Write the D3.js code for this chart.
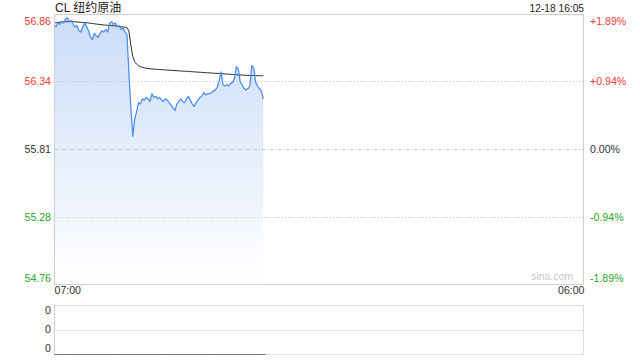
<!DOCTYPE html>
<html><head><meta charset="utf-8">
<script src="https://cdn.jsdelivr.net/npm/d3@7"></script>
<style>body{margin:0;background:#fff}svg{display:block}</style>
</head><body><svg id="c" width="640" height="360"></svg>
<script>
const title = "CL 纽约原油";
const stamp = "12-18 16:05";
const watermark = "sina.com";
const prevClose = 55.81;
const priceTicks = [56.86, 56.34, 55.81, 55.28, 54.76];
const pctTicks = ["+1.89%", "+0.94%", "0.00%", "-0.94%", "-1.89%"];
const xTickLabels = ["07:00", "06:00"];
const volTicks = ["0", "0", "0"];
const sessionStart = "07:00", sessionEnd = "06:00", stepMinutes = 5;

const prices = [
  56.78, 56.76, 56.79, 56.78, 56.80, 56.79, 56.82, 56.83, 56.80, 56.81,
  56.78, 56.76, 56.77, 56.73, 56.72, 56.76, 56.79, 56.76, 56.73, 56.68,
  56.66, 56.71, 56.69, 56.68, 56.71, 56.73, 56.72, 56.74, 56.72, 56.79,
  56.80, 56.78, 56.79, 56.76, 56.77, 56.74, 56.75, 56.72, 56.70, 56.40,
  56.14, 55.91, 56.04, 56.10, 56.17, 56.16, 56.20, 56.19, 56.21, 56.20,
  56.18, 56.24, 56.21, 56.22, 56.20, 56.21, 56.19, 56.18, 56.20, 56.19,
  56.17, 56.15, 56.13, 56.11, 56.16, 56.18, 56.20, 56.18, 56.17, 56.20,
  56.22, 56.19, 56.16, 56.14, 56.17, 56.19, 56.21, 56.22, 56.25, 56.23,
  56.24, 56.24, 56.25, 56.26, 56.27, 56.29, 56.34, 56.41, 56.31, 56.30,
  56.31, 56.30, 56.32, 56.33, 56.36, 56.45, 56.43, 56.33, 56.31, 56.28,
  56.27, 56.28, 56.30, 56.46, 56.44, 56.33, 56.30, 56.28, 56.26, 56.20
];
const avgPrices = [
  56.790, 56.792, 56.795, 56.797, 56.798, 56.799, 56.800, 56.801, 56.801, 56.801,
  56.800, 56.799, 56.798, 56.797, 56.795, 56.794, 56.793, 56.792, 56.790, 56.788,
  56.786, 56.784, 56.782, 56.780, 56.778, 56.776, 56.775, 56.773, 56.772, 56.771,
  56.770, 56.769, 56.767, 56.765, 56.763, 56.761, 56.759, 56.757, 56.754, 56.730,
  56.620, 56.530, 56.490, 56.470, 56.458, 56.450, 56.445, 56.441, 56.438, 56.436,
  56.434, 56.432, 56.431, 56.430, 56.429, 56.428, 56.427, 56.426, 56.425, 56.424,
  56.423, 56.422, 56.421, 56.420, 56.419, 56.418, 56.417, 56.416, 56.415, 56.414,
  56.413, 56.412, 56.411, 56.410, 56.409, 56.408, 56.407, 56.406, 56.405, 56.404,
  56.403, 56.402, 56.401, 56.400, 56.399, 56.398, 56.397, 56.396, 56.395, 56.394,
  56.393, 56.392, 56.391, 56.390, 56.389, 56.388, 56.387, 56.386, 56.385, 56.384,
  56.383, 56.383, 56.382, 56.382, 56.381, 56.381, 56.380, 56.380, 56.380, 56.379
];
const volumes = [
  0,0,0,0,0,0,0,0,0,0, 0,0,0,0,0,0,0,0,0,0,
  0,0,0,0,0,0,0,0,0,0, 0,0,0,0,0,0,0,0,0,0,
  0,0,0,0,0,0,0,0,0,0, 0,0,0,0,0,0,0,0,0,0,
  0,0,0,0,0,0,0,0,0,0, 0,0,0,0,0,0,0,0,0,0,
  0,0,0,0,0,0,0,0,0,0, 0,0,0,0,0,0,0,0,0,0,
  0,0,0,0,0,0,0,0,0,0
];

const FONT = "'Liberation Sans', Arial, sans-serif";
const RED = "#f23a3a", GREEN = "#26a826", DARK = "#333", GRID = "#c8c8c8", BORDER = "#cfcfcf";
const svg = d3.select("#c");
const L = 54, R = 584, T = 14, B = 284;
const VT = 305, VB = 354;

const parse = d3.timeParse("%H:%M");
const t0 = parse(sessionStart);
const t1 = d3.timeDay.offset(parse(sessionEnd), 1);
const times = prices.map((_, i) => d3.timeMinute.offset(t0, i * stepMinutes));

const x = d3.scaleTime().domain([t0, t1]).range([L, R]);
const y = d3.scaleLinear().domain([priceTicks[4], priceTicks[0]]).range([B, T]);

const defs = svg.append("defs");
const grad = defs.append("linearGradient").attr("id", "g").attr("gradientUnits", "userSpaceOnUse")
  .attr("x1", 0).attr("x2", 0).attr("y1", T).attr("y2", B);
grad.append("stop").attr("offset", "0%").attr("stop-color", "#cadcf8");
grad.append("stop").attr("offset", "100%").attr("stop-color", "#ffffff");

svg.append("text").attr("x", 55).attr("y", 12).attr("font-family", "'Liberation Sans', 'Noto Sans CJK SC', sans-serif")
  .attr("font-size", 12).attr("fill", "#222").text(title);
svg.append("text").attr("x", 584).attr("y", 11.5).attr("text-anchor", "end").attr("font-family", FONT)
  .attr("font-size", 10.2).attr("fill", "#222").text(stamp);

const area = d3.area().x((d, i) => x(times[i])).y0(B).y1(d => y(d));
svg.append("path").datum(prices).attr("d", area).attr("fill", "url(#g)");

[priceTicks[1], priceTicks[2], priceTicks[3]].forEach(v => {
  svg.append("line").attr("x1", L).attr("x2", R).attr("y1", Math.round(y(v)) + 0.5).attr("y2", Math.round(y(v)) + 0.5)
    .attr("stroke", v === prevClose ? "#c4c4c4" : GRID).attr("stroke-width", 1)
    .attr("stroke-dasharray", v === prevClose ? "3,2,1,2" : "1,2");
});

const line = d3.line().x((d, i) => x(times[i])).y(d => y(d));
svg.append("path").datum(avgPrices).attr("d", line).attr("fill", "none").attr("stroke", "#2a2a2a").attr("stroke-width", 1);
svg.append("path").datum(prices).attr("d", line).attr("fill", "none").attr("stroke", "#4a8cef").attr("stroke-width", 1.25)
  .attr("stroke-linejoin", "round");

svg.append("rect").attr("x", L + 0.5).attr("y", T + 0.5).attr("width", R - L - 1).attr("height", B - T)
  .attr("fill", "none").attr("stroke", BORDER);

svg.append("text").attr("x", 573).attr("y", 280).attr("text-anchor", "end").attr("font-family", FONT)
  .attr("font-size", 10.5).attr("fill", "#c8c8c8").text(watermark);

const colorFor = i => i < 2 ? RED : (i === 2 ? DARK : GREEN);
const shiftFor = i => i === 0 ? 7 : (i === 4 ? -6 : 0);
const leftAx = svg.append("g").attr("transform", `translate(${L - 3},0)`)
  .call(d3.axisLeft(y).tickValues(priceTicks).tickSize(0).tickPadding(0).tickFormat(d3.format(".2f")));
leftAx.select(".domain").remove();
leftAx.selectAll("text").attr("font-family", FONT).attr("font-size", 10.6)
  .attr("fill", (d, i) => colorFor(i)).attr("dy", (d, i) => (shiftFor(i) + 3.8) + "px");

const rightAx = svg.append("g").attr("transform", `translate(${R + 6},0)`)
  .call(d3.axisRight(y).tickValues(priceTicks).tickSize(0).tickPadding(0).tickFormat((d, i) => pctTicks[i]));
rightAx.select(".domain").remove();
rightAx.selectAll("text").attr("font-family", FONT).attr("font-size", 10.6)
  .attr("fill", (d, i) => colorFor(i)).attr("dy", (d, i) => (shiftFor(i) + 3.8) + "px");

const xAx = svg.append("g").attr("transform", `translate(0,${B})`)
  .call(d3.axisBottom(x).tickValues([t0, t1]).tickSize(0).tickPadding(0).tickFormat((d, i) => xTickLabels[i]));
xAx.select(".domain").remove();
xAx.selectAll("text").attr("font-family", FONT).attr("font-size", 10.6).attr("fill", DARK)
  .attr("text-anchor", (d, i) => i === 0 ? "start" : "end").attr("dy", "9.5px");

const yv = d3.scaleLinear().domain([0, 1]).range([VB, VT]);
svg.append("line").attr("x1", L).attr("x2", R).attr("y1", VT + 0.5).attr("y2", VT + 0.5).attr("stroke", GRID).attr("stroke-dasharray", "1,1");
svg.append("line").attr("x1", L).attr("x2", R).attr("y1", 330.5).attr("y2", 330.5).attr("stroke", GRID).attr("stroke-dasharray", "1,1");
svg.append("line").attr("x1", L).attr("x2", R).attr("y1", VB + 0.5).attr("y2", VB + 0.5).attr("stroke", GRID).attr("stroke-dasharray", "1,1");
svg.append("line").attr("x1", L + 0.5).attr("x2", L + 0.5).attr("y1", VT).attr("y2", VB + 1).attr("stroke", BORDER);
svg.append("line").attr("x1", R - 0.5).attr("x2", R - 0.5).attr("y1", VT).attr("y2", VB + 1).attr("stroke", "#ddd");
const bw = x(times[1]) - x(times[0]);
svg.append("g").selectAll("rect").data(volumes).join("rect")
  .attr("x", (d, i) => x(times[i]))
  .attr("width", bw + 0.3)
  .attr("y", d => Math.min(yv(d), VB))
  .attr("height", d => Math.max(1, VB + 1 - yv(d)))
  .attr("fill", "#777");
const volPos = [VT + 5, 329, VB - 6];
volTicks.forEach((t, i) => {
  svg.append("text").attr("x", 51).attr("y", volPos[i]).attr("dy", "3.8px").attr("text-anchor", "end")
    .attr("font-family", FONT).attr("font-size", 10.6).attr("fill", DARK).text(t);
});
</script></body></html>
